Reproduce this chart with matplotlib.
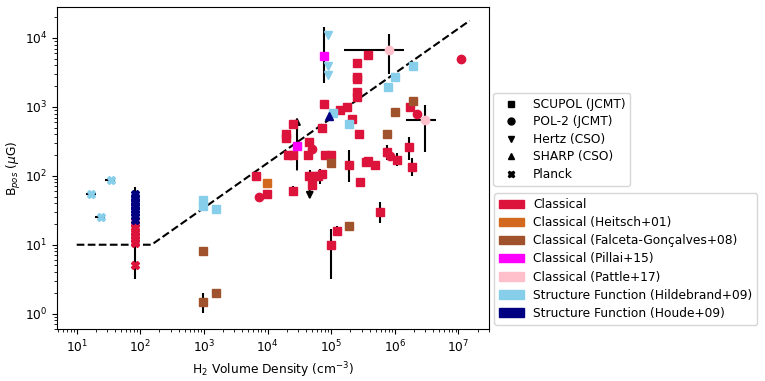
import matplotlib
matplotlib.use("Agg")
import matplotlib.pyplot as plt
import numpy as np
from matplotlib.lines import Line2D
from matplotlib.patches import Patch

# colours of the methods
c_classical = '#DC143C'
c_heitsch = '#D2691E'
c_falceta = '#A0522D'
c_pillai = '#FF00FF'
c_pattle = '#FFC0CB'
c_hildebrand = '#87CEEB'
c_houde = '#000080'

# Classical, SCUPOL (squares)
cl_sq_n = [6.5e3, 9.8e3, 3.8e5, 2.5e5, 2.5e5, 2.5e5, 2.5e5, 2.5e5, 7.8e4, 1.35e5, 1.8e5,
           2.1e5, 7.2e4, 2.7e5, 2.5e4, 1.95e4, 1.95e4, 2.1e4, 2.5e4, 4.5e4, 4.3e4, 8.1e4,
           1.0e5, 4.4e4, 5.2e4, 6.2e4, 7.2e4, 4.9e4, 2.5e4, 1.9e5, 2.8e5, 3.5e5, 3.8e5,
           4.8e5, 7.6e5, 1.07e6, 1.7e6, 1.66e6, 1.86e6, 5.8e5, 1.23e5, 9.8e4]
cl_sq_B = [98, 55, 5.7e3, 4.3e3, 2.7e3, 2.5e3, 1.65e3, 1.4e3, 1.1e3, 910, 980,
           670, 500, 400, 570, 400, 355, 200, 200, 310, 200, 200,
           200, 98, 98, 100, 105, 74, 61, 145, 81, 158, 166,
           141, 220, 170, 980, 260, 132, 30, 16, 9.8]

# Classical, POL-2 (circles)
cl_ci_n = [7.2e3, 1.1e7, 2.2e6, 8.3e5, 4.9e4]
cl_ci_B = [50, 5.0e3, 800, 195, 245]

# Classical, Planck (crosses) at n ~ 80
cl_pl_n = [83] * 10
cl_pl_B = [22, 20, 18, 16, 15, 13.5, 12, 11, 10.5, 5]

heitsch_n = [9.8e3]
heitsch_B = [79]

falceta_n = [980, 1.55e3, 980, 9.8e4, 7.6e5, 1.0e6, 1.96e6, 1.9e5]
falceta_B = [8, 2, 1.5, 155, 400, 850, 1.2e3, 19]

pillai_n = [7.6e4, 2.9e4]
pillai_B = [5.4e3, 270]

pattle_n = [8.1e5, 3.0e6]
pattle_B = [6.6e3, 650]

hild_sq_n = [980, 980, 1.55e3, 1.9e6, 1.0e6, 7.7e5, 1.9e5, 1.05e5]
hild_sq_B = [44, 36, 33, 3.9e3, 2.7e3, 1.95e3, 560, 810]
hild_hz_n = [9.0e4, 9.0e4, 9.0e4]
hild_hz_B = [1.1e4, 3.9e3, 2.9e3]
hild_pl_n = [34, 17, 24.5]
hild_pl_B = [88, 55, 25]

houde_pl_n = [83] * 10
houde_pl_B = [54, 50, 46, 42, 38, 35, 32, 29, 26, 23]
houde_sh_n = [9.1e4]
houde_sh_B = [740]

# vertical error bars: density, lower, upper
ev_n = [7.6e4, 8.1e5, 3.0e6, 4.6e4, 6.6e4, 2.5e4, 1.9e5, 7.6e5, 1.07e6, 1.66e6, 1.86e6,
        5.8e5, 1.23e5, 9.8e4, 980, 83]
ev_lo = [2.2e3, 2.95e3, 220, 76, 76, 61, 80, 172, 140, 170, 98, 21, 13.2, 3.2, 1.02, 3.2]
ev_hi = [1.45e4, 1.15e4, 1.05e3, 123, 125, 72, 240, 275, 215, 370, 182, 41, 18.6, 17, 2.0, 68]

# horizontal error bars: field, lower, upper
eh_B = [6.6e3, 650, 88, 55, 25]
eh_lo = [1.6e5, 1.5e6, 28, 13.8, 19.4]
eh_hi = [1.4e6, 4.5e6, 40, 20, 27.8]

# limits drawn as arrows: density, start, end
ar_n = [2.9e4, 4.6e4]
ar_from = [112, 110]
ar_to = [780, 41]

# Crutcher et al. (2010) relation
B0 = 10.0
n0 = 150.0
dens = np.logspace(1, np.log10(1.5e7), 400)
bmax = np.where(dens < n0, B0, B0 * (dens / n0) ** 0.65)

fs = 8.8
fig = plt.figure(figsize=(7.65, 3.81), dpi=100)
ax = fig.add_axes([0.0745, 0.1365, 0.5645, 0.845])

ax.plot(dens, bmax, 'k--', lw=1.5, zorder=1)
ax.vlines(ev_n, ev_lo, ev_hi, colors='k', lw=1.5, zorder=2)
ax.hlines(eh_B, eh_lo, eh_hi, colors='k', lw=1.5, zorder=2)
for n, b1, b2 in zip(ar_n, ar_from, ar_to):
    ax.annotate('', xy=(n, b2), xytext=(n, b1),
                arrowprops=dict(arrowstyle='-|>', color='k', lw=1.5, mutation_scale=10),
                zorder=2)

ms = 6
kw = dict(linestyle='none', zorder=3)
ax.plot(cl_sq_n, cl_sq_B, marker='s', color=c_classical, ms=ms, **kw)
ax.plot(cl_ci_n, cl_ci_B, marker='o', color=c_classical, ms=ms, **kw)
ax.plot(cl_pl_n, cl_pl_B, marker='X', color=c_classical, ms=ms, **kw)
ax.plot(heitsch_n, heitsch_B, marker='s', color=c_heitsch, ms=ms, **kw)
ax.plot(falceta_n, falceta_B, marker='s', color=c_falceta, ms=ms, **kw)
ax.plot(pillai_n, pillai_B, marker='s', color=c_pillai, ms=ms, **kw)
ax.plot(pattle_n, pattle_B, marker='o', color=c_pattle, ms=ms, **kw)
ax.plot(hild_sq_n, hild_sq_B, marker='s', color=c_hildebrand, ms=ms, **kw)
ax.plot(hild_hz_n, hild_hz_B, marker='v', color=c_hildebrand, ms=ms, **kw)
ax.plot(hild_pl_n, hild_pl_B, marker='X', color=c_hildebrand, ms=ms, **kw)
ax.plot(houde_pl_n, houde_pl_B, marker='X', color=c_houde, ms=ms, **kw)
ax.plot(houde_sh_n, houde_sh_B, marker='^', color=c_houde, ms=ms, **kw)

ax.set_xscale('log')
ax.set_yscale('log')
ax.set_xlim(4.9, 3e7)
ax.set_ylim(0.6, 2.8e4)
ax.tick_params(labelsize=fs)
ax.set_xlabel(r'H$_2$ Volume Density (cm$^{-3}$)', fontsize=fs)
ax.set_ylabel(r'B$_{pos}$ ($\mu$G)', fontsize=fs)
ax.yaxis.set_label_coords(-0.079, 0.5)
ax.xaxis.set_label_coords(0.5, -0.096)

inst = [('s', 'SCUPOL (JCMT)'), ('o', 'POL-2 (JCMT)'), ('v', 'Hertz (CSO)'),
        ('^', 'SHARP (CSO)'), ('X', 'Planck')]
h1 = [Line2D([], [], marker=m, color='k', linestyle='none', ms=5) for m, _ in inst]
leg1 = ax.legend(h1, [t for _, t in inst], loc='upper left', fontsize=fs, labelspacing=0.37,
                 bbox_to_anchor=(0.637, 0.772), bbox_transform=fig.transFigure)
ax.add_artist(leg1)

meth = [(c_classical, 'Classical'), (c_heitsch, 'Classical (Heitsch+01)'),
        (c_falceta, 'Classical (Falceta-Gonçalves+08)'), (c_pillai, 'Classical (Pillai+15)'),
        (c_pattle, 'Classical (Pattle+17)'), (c_hildebrand, 'Structure Function (Hildebrand+09)'),
        (c_houde, 'Structure Function (Houde+09)')]
h2 = [Patch(color=c) for c, _ in meth]
ax.legend(h2, [t for _, t in meth], loc='upper left', fontsize=fs, labelspacing=0.42,
          bbox_to_anchor=(0.638, 0.509), bbox_transform=fig.transFigure)

fig.savefig('out.png', dpi=100)
